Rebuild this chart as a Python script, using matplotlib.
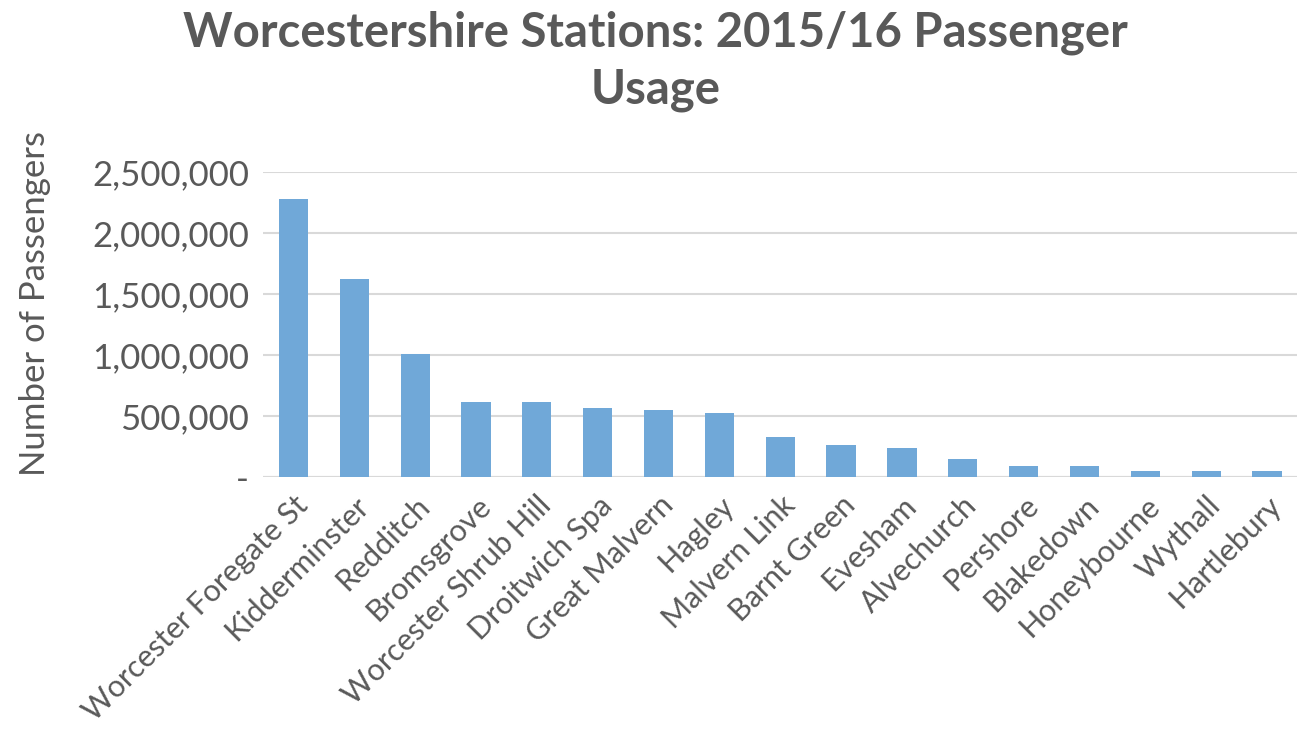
import matplotlib
matplotlib.use("Agg")
import matplotlib.pyplot as plt
from matplotlib.ticker import FuncFormatter

stations = ["Worcester Foregate St", "Kidderminster", "Redditch", "Bromsgrove",
            "Worcester Shrub Hill", "Droitwich Spa", "Great Malvern", "Hagley",
            "Malvern Link", "Barnt Green", "Evesham", "Alvechurch", "Pershore",
            "Blakedown", "Honeybourne", "Wythall", "Hartlebury"]
passengers = [2283000, 1622000, 1009000, 613000, 613000, 566000, 550000, 530000,
              330000, 262000, 243000, 150000, 95000, 95000, 48000, 48000, 48000]
yticks = [0, 500000, 1000000, 1500000, 2000000, 2500000]

FONT = ["Lato", "DejaVu Sans"]
GREY = "#595959"
BAR = "#70a8d8"

fig = plt.figure(figsize=(12.98, 7.33), dpi=100)
ax = fig.add_axes([0.2026, 0.349, 0.797, 0.416])

x = range(len(stations))
ax.bar(x, passengers, width=0.48, color=BAR, zorder=3)
ax.set_xlim(-0.5, len(stations) - 0.5)
ax.set_ylim(0, 2500000)
ax.set_yticks(yticks)
ax.yaxis.set_major_formatter(FuncFormatter(lambda v, p: "-" if v == 0 else f"{int(v):,}"))
ax.grid(axis="y", color="#d9d9d9", linewidth=1.5, zorder=0)
ax.set_axisbelow(True)
for s in ax.spines.values():
    s.set_visible(False)
ax.axhline(0, color="#d9d9d9", linewidth=1.5, zorder=1)
ax.tick_params(axis="both", length=0, colors=GREY)
ax.tick_params(axis="y", pad=10)
ax.tick_params(axis="x", pad=10)
ax.set_xticks(list(x))
ax.set_xticklabels(stations, rotation=45, ha="right", rotation_mode="anchor",
                   fontsize=22, family=FONT, color=GREY)
for lab in ax.get_yticklabels():
    lab.set_fontsize(25)
    lab.set_family(FONT)
    lab.set_color(GREY)

ax.set_ylabel("Number of Passengers", fontsize=25, family=FONT, color=GREY)
ax.yaxis.set_label_coords(-0.205, 0.57)

fig.text(0.505, 0.985, "Worcestershire Stations: 2015/16 Passenger\nUsage",
         ha="center", va="top", fontsize=34, fontweight="bold", family=FONT,
         color=GREY, linespacing=1.32)

fig.savefig("out.png", dpi=100)
